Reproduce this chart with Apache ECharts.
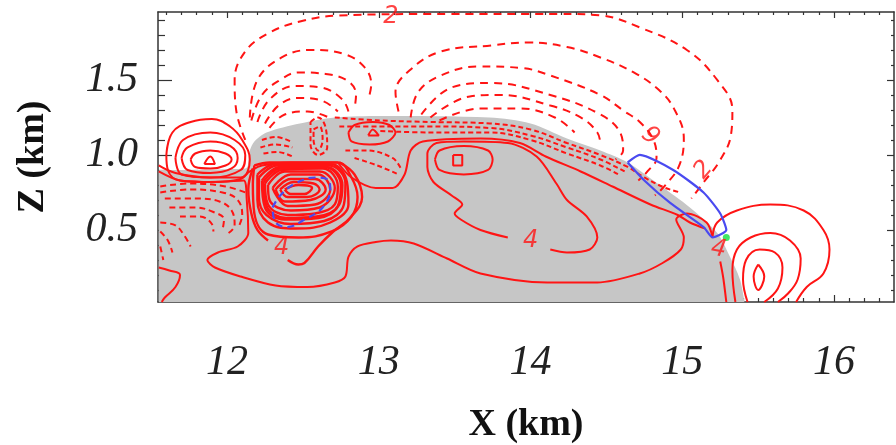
<!DOCTYPE html>
<html>
<head>
<meta charset="utf-8">
<script src="https://cdn.jsdelivr.net/npm/echarts@6/dist/echarts.min.js"></script>
<style>
  html, body { margin: 0; padding: 0; background: #fff; }
  #chart { width: 896px; height: 445px; }
</style>
</head>
<body>
<div id="chart"></div>
<script>
// axis ranges (km) and tick labels
const xRange = [11.545, 16.395];
const zRange = [0.02, 1.953];
const xMajor = [12, 13, 14, 15, 16];
const zMajor = [0.5, 1.0, 1.5];

// grey cloud region, upper edge [x, z]
const cloudEdge = [[11.55, 0.90], [12.12, 0.91], [12.15, 1.03], [12.18, 1.09], [12.26, 1.15], [12.48, 1.21],
    [12.71, 1.25], [13.01, 1.26], [13.73, 1.25], [14.00, 1.21], [14.24, 1.11], [14.46, 1.03], [14.64, 0.95],
    [14.85, 0.80], [15.05, 0.65], [15.23, 0.48], [15.31, 0.33], [15.38, 0.17], [15.41, 0.02]];

// positive (solid) contours: left cell
const solidLeft = [
    [[11.85, 0.94], [11.89, 0.99], [11.92, 0.94], [11.85, 0.94]],
    [[11.76, 0.97], [11.79, 1.01], [11.89, 1.03], [11.99, 1.01], [12.03, 0.97], [11.99, 0.93], [11.89, 0.91], [11.79, 0.92], [11.76, 0.97]],
    [[11.70, 0.98], [11.74, 1.05], [11.89, 1.09], [12.02, 1.06], [12.07, 0.98], [12.03, 0.91], [11.89, 0.88], [11.74, 0.90], [11.70, 0.98]],
    [[11.66, 0.98], [11.71, 1.10], [11.89, 1.15], [12.05, 1.10], [12.12, 1.00], [12.09, 0.90], [11.89, 0.85], [11.70, 0.87], [11.66, 0.98]],
    [[11.60, 1.00], [11.64, 1.15], [11.76, 1.22], [11.90, 1.24], [12.02, 1.19], [12.10, 1.10], [12.15, 0.97], [12.09, 0.84], [11.89, 0.82], [11.69, 0.83], [11.61, 0.90], [11.60, 1.00]],
    [[11.55, 0.93], [11.66, 0.88], [11.89, 0.85], [12.09, 0.85], [12.15, 0.89], [12.23, 0.93], [12.42, 0.95], [12.73, 0.95]],
    [[11.55, 0.25], [11.62, 0.23], [11.69, 0.20], [11.66, 0.12], [11.59, 0.05], [11.57, 0.02]]
];

// dense solid cell near x = 12.5 km
const solidCore = [
    [[12.38, 0.77], [12.47, 0.80], [12.56, 0.78], [12.51, 0.74], [12.42, 0.74], [12.38, 0.77]],
    [[12.35, 0.77], [12.44, 0.82], [12.57, 0.81], [12.61, 0.77], [12.53, 0.72], [12.40, 0.72], [12.35, 0.77]],
    [[12.32, 0.77], [12.42, 0.84], [12.58, 0.84], [12.65, 0.77], [12.55, 0.70], [12.38, 0.69], [12.32, 0.77]],
    [[12.30, 0.78], [12.42, 0.87], [12.60, 0.87], [12.68, 0.77], [12.58, 0.67], [12.40, 0.66], [12.30, 0.78]],
    [[12.27, 0.80], [12.38, 0.89], [12.61, 0.89], [12.71, 0.78], [12.61, 0.65], [12.42, 0.63], [12.28, 0.70], [12.27, 0.80]],
    [[12.25, 0.81], [12.36, 0.90], [12.63, 0.91], [12.73, 0.79], [12.71, 0.67], [12.58, 0.61], [12.40, 0.60], [12.27, 0.67], [12.25, 0.81]],
    [[12.24, 0.82], [12.35, 0.91], [12.64, 0.92], [12.75, 0.80], [12.73, 0.66], [12.59, 0.59], [12.39, 0.58], [12.26, 0.66], [12.24, 0.82]],
    [[12.23, 0.83], [12.35, 0.92], [12.65, 0.92], [12.76, 0.80], [12.74, 0.67], [12.60, 0.58], [12.38, 0.57], [12.25, 0.65], [12.23, 0.83]],
    [[12.21, 0.85], [12.33, 0.93], [12.67, 0.93], [12.78, 0.81], [12.77, 0.67], [12.64, 0.56], [12.42, 0.54], [12.26, 0.60], [12.21, 0.72], [12.21, 0.85]],
    [[12.20, 0.87], [12.32, 0.94], [12.68, 0.94], [12.79, 0.82], [12.80, 0.67], [12.68, 0.55], [12.45, 0.51], [12.27, 0.55], [12.20, 0.70], [12.20, 0.87]],
    [[12.18, 0.93], [12.28, 0.95], [12.73, 0.95], [12.82, 0.85], [12.86, 0.72], [12.82, 0.59], [12.69, 0.49], [12.47, 0.45], [12.27, 0.47], [12.18, 0.61], [12.17, 0.80], [12.18, 0.93]],
    [[12.17, 0.91], [12.14, 0.77], [12.16, 0.61], [12.20, 0.50], [12.27, 0.43]],
    [[12.40, 0.30], [12.47, 0.27], [12.51, 0.28], [12.60, 0.39], [12.70, 0.49], [12.81, 0.58], [12.89, 0.72], [12.84, 0.87], [12.74, 0.95]]
];

// long solid contours across the middle
const solidMiddle = [
    [[11.55, 0.89], [11.69, 0.83], [11.92, 0.82], [12.11, 0.83], [12.13, 0.70], [12.14, 0.48], [12.07, 0.39], [11.94, 0.35],
     [11.87, 0.30], [11.92, 0.25], [12.09, 0.19], [12.32, 0.13], [12.53, 0.12], [12.71, 0.15], [12.78, 0.19], [12.80, 0.32],
     [12.86, 0.39], [12.98, 0.42], [13.08, 0.43], [13.23, 0.41], [13.45, 0.31], [13.67, 0.21], [14.11, 0.15], [14.44, 0.15],
     [14.72, 0.21], [14.87, 0.28], [14.99, 0.37], [15.01, 0.45], [14.96, 0.57], [15.03, 0.61], [15.16, 0.55], [15.20, 0.45]],
    [[15.25, 0.29], [15.27, 0.18], [15.29, 0.02]],
    [[12.73, 0.95], [12.82, 0.85], [12.98, 0.78], [13.09, 0.78], [13.17, 0.87], [13.21, 1.03], [13.29, 1.09], [13.67, 1.11],
     [13.93, 1.08], [14.10, 0.99], [14.33, 0.89], [14.54, 0.79], [14.79, 0.67], [14.97, 0.60], [15.05, 0.55], [15.15, 0.51]],
    [[13.85, 0.45], [13.67, 0.50], [13.54, 0.57], [13.50, 0.61], [13.55, 0.67], [13.48, 0.73], [13.36, 0.82], [13.32, 0.92],
     [13.32, 1.01], [13.38, 1.08], [13.56, 1.09], [13.85, 1.08], [14.04, 0.99], [14.17, 0.81], [14.24, 0.70], [14.37, 0.59],
     [14.44, 0.45], [14.39, 0.37], [14.24, 0.35], [14.13, 0.37]],
    [[13.37, 0.97], [13.40, 1.03], [13.56, 1.06], [13.72, 1.03], [13.75, 0.97], [13.72, 0.90], [13.56, 0.87], [13.40, 0.90], [13.37, 0.97]],
    [[13.49, 1.00], [13.55, 1.00], [13.55, 0.93], [13.49, 0.93], [13.49, 1.00]],
    [[12.80, 1.15], [12.84, 1.20], [12.96, 1.22], [13.07, 1.20], [13.11, 1.15], [13.06, 1.09], [12.94, 1.07], [12.82, 1.09], [12.80, 1.15]],
    [[12.93, 1.13], [12.96, 1.17], [13.00, 1.13], [12.93, 1.13]]
];

// solid cell right of the cloud
const solidRight = [
    [[15.20, 0.46], [15.23, 0.55], [15.36, 0.63], [15.58, 0.67], [15.80, 0.63], [15.93, 0.50], [15.97, 0.37], [15.93, 0.21], [15.82, 0.12], [15.75, 0.02]],
    [[15.35, 0.02], [15.33, 0.23], [15.36, 0.37], [15.45, 0.45], [15.58, 0.48], [15.71, 0.43], [15.78, 0.31], [15.76, 0.17], [15.70, 0.08], [15.63, 0.02]],
    [[15.43, 0.02], [15.40, 0.17], [15.42, 0.30], [15.51, 0.37], [15.61, 0.35], [15.66, 0.25], [15.63, 0.11], [15.54, 0.02]],
    [[15.50, 0.27], [15.54, 0.19], [15.50, 0.10], [15.47, 0.19], [15.50, 0.27]]
];

// negative (dashed) contours: arches above the cloud
const dashedArches = [
    [[12.12, 1.10], [12.06, 1.30], [12.05, 1.50], [12.12, 1.69], [12.27, 1.81], [12.48, 1.89], [12.74, 1.93], [13.47, 1.94],
     [14.19, 1.94], [14.46, 1.93], [14.72, 1.85], [15.03, 1.70], [15.23, 1.50], [15.33, 1.30], [15.32, 1.13], [15.24, 0.95],
     [15.15, 0.83], [15.06, 0.71]],
    [[12.15, 1.25], [12.20, 1.50], [12.36, 1.65], [12.55, 1.70], [12.78, 1.67], [12.91, 1.58], [12.95, 1.47], [12.93, 1.37]],
    [[12.16, 1.23], [12.23, 1.40], [12.35, 1.50], [12.47, 1.55], [12.65, 1.54], [12.80, 1.49], [12.85, 1.40], [12.84, 1.31]],
    [[12.20, 1.22], [12.28, 1.37], [12.45, 1.46], [12.62, 1.45], [12.76, 1.37], [12.80, 1.29]],
    [[12.25, 1.21], [12.34, 1.33], [12.47, 1.38], [12.63, 1.36], [12.73, 1.29]],
    [[12.28, 1.18], [12.38, 1.27], [12.53, 1.29], [12.67, 1.25]],
    [[13.13, 1.29], [13.11, 1.42], [13.21, 1.57], [13.41, 1.69], [13.74, 1.73], [13.98, 1.75], [14.24, 1.72], [14.46, 1.65],
     [14.68, 1.55], [14.85, 1.43], [14.95, 1.30], [15.01, 1.11], [14.98, 0.93], [14.89, 0.80], [14.82, 0.73]],
    [[13.21, 1.25], [13.26, 1.42], [13.41, 1.53], [13.65, 1.59], [13.94, 1.58], [14.13, 1.53], [14.46, 1.40], [14.62, 1.29],
     [14.72, 1.22], [14.81, 1.10], [14.83, 0.98], [14.77, 0.89], [14.71, 0.83]],
    [[13.28, 1.27], [13.48, 1.45], [13.74, 1.48], [14.13, 1.40], [14.46, 1.27], [14.59, 1.15], [14.61, 1.03], [14.56, 0.97]],
    [[13.34, 1.25], [13.60, 1.39], [13.80, 1.40], [14.13, 1.33], [14.33, 1.25], [14.44, 1.15], [14.46, 1.07]],
    [[13.40, 1.23], [13.67, 1.31], [13.93, 1.31], [14.16, 1.25], [14.29, 1.15]]
];

// tightly packed dashed contours along the cloud top
const dashedBand = [
    [[12.71, 1.25], [13.01, 1.23], [13.34, 1.22], [13.73, 1.21], [14.00, 1.17], [14.24, 1.08], [14.46, 1.00], [14.64, 0.92],
     [14.75, 0.85], [14.89, 0.78], [14.99, 0.75]],
    [[12.74, 1.19], [13.01, 1.19], [13.34, 1.19], [13.73, 1.18], [14.00, 1.13], [14.24, 1.05], [14.46, 0.97], [14.62, 0.89]],
    [[13.01, 1.16], [13.34, 1.15], [13.73, 1.15], [14.00, 1.10], [14.24, 1.01], [14.46, 0.93], [14.58, 0.87]],
    [[12.23, 1.10], [12.32, 1.12], [12.42, 1.09]],
    [[12.22, 1.05], [12.32, 1.07], [12.43, 1.05]],
    [[12.24, 1.01], [12.33, 1.02], [12.43, 0.99]],
    [[12.55, 1.22], [12.60, 1.25], [12.65, 1.18], [12.66, 1.05], [12.60, 1.00], [12.55, 1.07], [12.55, 1.22]],
    [[12.57, 1.17], [12.61, 1.19], [12.63, 1.10], [12.60, 1.03], [12.57, 1.10], [12.57, 1.17]],
    [[12.78, 1.03], [12.91, 1.03], [13.09, 0.98], [13.15, 0.90]],
    [[12.84, 0.98], [12.99, 0.93], [13.13, 0.87]]
];

// dashed contours in the lower left of the cloud
const dashedLow = [
    [[11.56, 0.79], [11.76, 0.81], [11.99, 0.79], [12.12, 0.75]],
    [[11.56, 0.75], [11.76, 0.77], [11.97, 0.75], [12.07, 0.70], [12.10, 0.60], [12.07, 0.51]],
    [[11.59, 0.71], [11.79, 0.71], [11.95, 0.69], [12.03, 0.63], [12.05, 0.53], [12.01, 0.48]],
    [[11.62, 0.65], [11.79, 0.65], [11.91, 0.62], [11.98, 0.57], [11.97, 0.50]],
    [[11.69, 0.59], [11.82, 0.59], [11.90, 0.54], [11.91, 0.49]],
    [[11.56, 0.55], [11.66, 0.53], [11.72, 0.46], [11.76, 0.39]],
    [[11.56, 0.49], [11.61, 0.43], [11.64, 0.35]],
    [[11.56, 0.39], [11.58, 0.30]]
];

// blue outlines and green marker
const blueSolid = [[14.64, 0.95], [14.72, 1.00], [14.94, 0.90], [15.14, 0.75], [15.25, 0.61], [15.29, 0.50], [15.20, 0.45],
    [15.14, 0.52], [14.92, 0.68], [14.75, 0.83], [14.64, 0.95]];
const blueDashed = [[12.30, 0.65], [12.35, 0.73], [12.45, 0.81], [12.58, 0.85], [12.67, 0.83], [12.68, 0.77], [12.63, 0.65],
    [12.51, 0.57], [12.40, 0.52], [12.32, 0.55], [12.30, 0.65]];
const greenPoint = [[15.29, 0.45]];

// contour value labels [x, z, text]
const contourLabels = [[13.08, 1.92, '2'], [14.81, 1.15, '6'], [15.14, 0.90, '2'], [12.36, 0.38, '4'], [14.00, 0.43, '4'], [15.24, 0.37, '4']];
const labelAngles = [0, 140, 50, 0, 0, -10];

const xMinor = [];
for (let i = 116; i <= 163; i++) if (i % 10) xMinor.push(i / 10);
const zMinor = [];
for (let i = 1; i <= 19; i++) if (i % 5) zMinor.push(i / 10);

const red = '#ff1414';
const axisColor = '#333';

const makeAxis = (range, position, ticks, len, showLine, labelOpts) => ({
    type: 'value',
    position: position,
    min: range[0],
    max: range[1],
    axisLine: { show: showLine, onZero: false, lineStyle: { color: axisColor, width: 1.5 } },
    axisTick: { show: true, inside: true, length: len, customValues: ticks, lineStyle: { color: axisColor, width: 1.2 } },
    axisLabel: labelOpts ? Object.assign({ customValues: ticks }, labelOpts) : { show: false },
    splitLine: { show: false }
});

const tickFont = { fontFamily: 'Liberation Serif', fontStyle: 'italic', fontSize: 42, color: '#222' };
const nameFont = { fontFamily: 'Liberation Serif', fontWeight: 'bold', fontSize: 38, color: '#111' };

const xAxes = [
    Object.assign(makeAxis(xRange, 'bottom', xMajor, 7, true,
        Object.assign({ margin: 40, formatter: v => String(Math.round(v)) }, tickFont)),
        { name: 'X (km)', nameLocation: 'middle', nameGap: 104, nameTextStyle: nameFont }),
    makeAxis(xRange, 'bottom', xMinor, 4, false, null),
    makeAxis(xRange, 'top', xMajor, 6, true, null),
    makeAxis(xRange, 'top', xMinor, 3, false, null)
];
const yAxes = [
    Object.assign(makeAxis(zRange, 'left', zMajor, 14, true,
        Object.assign({ margin: 20, formatter: v => v.toFixed(1) }, tickFont)),
        { name: 'Z (km)', nameLocation: 'middle', nameGap: 106, nameRotate: 90, nameTextStyle: nameFont }),
    makeAxis(zRange, 'left', zMinor, 7, false, null),
    makeAxis(zRange, 'right', zMajor, 7, true, null),
    makeAxis(zRange, 'right', zMinor, 3, false, null)
];

const lineSeries = (points, color, type, width, smooth) => ({
    type: 'line',
    data: points,
    showSymbol: false,
    symbol: 'none',
    smooth: smooth,
    silent: true,
    animation: false,
    lineStyle: { color: color, width: width, type: type },
    z: 3
});

const series = [];
series.push({
    type: 'line',
    data: cloudEdge,
    symbol: 'none',
    smooth: 0.3,
    silent: true,
    animation: false,
    lineStyle: { width: 0 },
    areaStyle: { color: '#c6c6c6', opacity: 1, origin: 'start' },
    z: 1
});
dashedArches.forEach(p => series.push(lineSeries(p, red, [8, 6], 2, 0.4)));
dashedBand.forEach(p => series.push(lineSeries(p, red, [5, 3], 2, 0.4)));
dashedLow.forEach(p => series.push(lineSeries(p, red, [6, 4], 2, 0.4)));
solidLeft.forEach(p => series.push(lineSeries(p, red, 'solid', 2, 0.4)));
solidCore.forEach(p => series.push(lineSeries(p, red, 'solid', 2.4, 0.4)));
solidMiddle.forEach(p => series.push(lineSeries(p, red, 'solid', 2, 0.3)));
solidRight.forEach(p => series.push(lineSeries(p, red, 'solid', 2, 0.4)));
series.push(lineSeries(blueDashed, '#4a4af0', [7, 5], 2.2, 0.4));
series.push(lineSeries(blueSolid, '#4a4af0', 'solid', 2.2, 0.2));
series.push({
    type: 'scatter',
    data: greenPoint,
    symbol: 'circle',
    symbolSize: 7,
    silent: true,
    animation: false,
    itemStyle: { color: '#10e040' },
    z: 5
});
series.push({
    type: 'scatter',
    data: contourLabels.map((d, i) => ({
        value: [d[0], d[1]],
        label: { rotate: labelAngles[i], formatter: d[2] }
    })),
    symbolSize: 0,
    silent: true,
    animation: false,
    label: {
        show: true,
        position: 'inside',
        color: red,
        fontSize: 24,
        fontStyle: 'italic',
        fontWeight: 'lighter',
        fontFamily: 'DejaVu Sans'
    },
    z: 6
});

const chart = echarts.init(document.getElementById('chart'), null, { renderer: 'canvas' });
chart.setOption({
    animation: false,
    backgroundColor: '#fff',
    grid: { left: 158, top: 12, right: 2, bottom: 143, containLabel: false, outerBoundsMode: 'none' },
    xAxis: xAxes,
    yAxis: yAxes,
    series: series
});
</script>
</body>
</html>
